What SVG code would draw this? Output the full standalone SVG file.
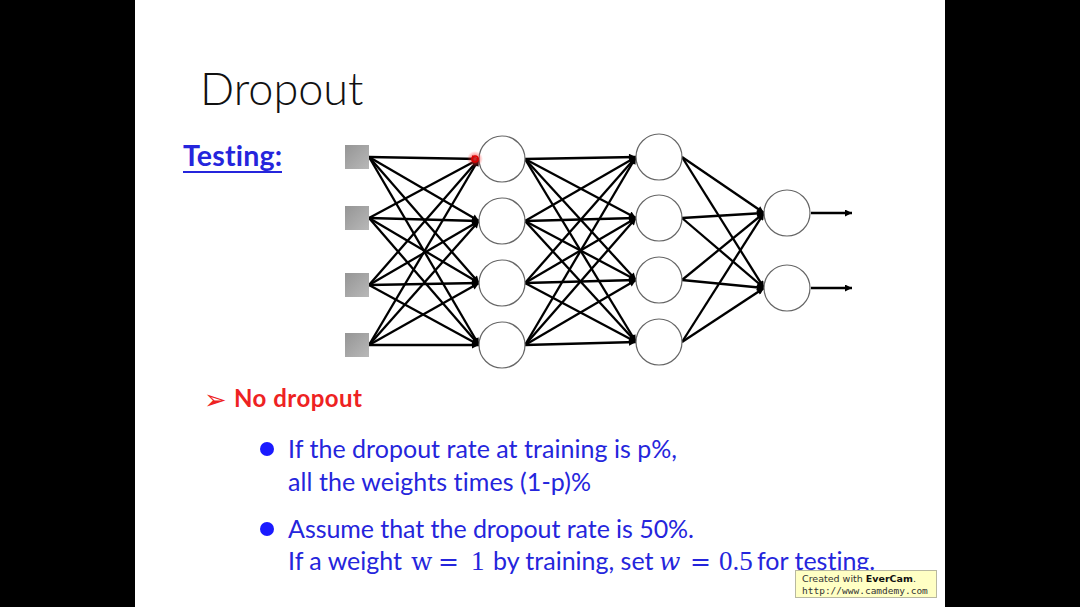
<svg xmlns="http://www.w3.org/2000/svg" width="1080" height="607" viewBox="0 0 1080 607">
<style>
text{font-variant-ligatures:none}
.sq{stroke:none}
.nd{fill:#fff;stroke:#666;stroke-width:1.2}
.cn{stroke:#000;stroke-width:2.3;fill:none;marker-end:url(#ah)}
.blue{fill:#2525dc;font-family:Lato,"Liberation Sans",sans-serif;font-size:25px}
.m{font-family:"DejaVu Serif",serif;font-size:25px}
.d{font-family:"Liberation Serif",serif;font-size:27px}
</style>
<defs>
<linearGradient id="gsq" x1="0" y1="0" x2="1" y2="1">
<stop offset="0" stop-color="#959595"/>
<stop offset="1" stop-color="#b8b8b8"/>
</linearGradient>
<marker id="ah" viewBox="0 0 10 10" refX="10" refY="5" markerWidth="9" markerHeight="7" markerUnits="userSpaceOnUse" orient="auto">
<path d="M0,0 L10,5 L0,10 z" fill="#000"/>
</marker>
<radialGradient id="glow">
<stop offset="0" stop-color="#ff3030" stop-opacity="0.9"/>
<stop offset="1" stop-color="#ff3030" stop-opacity="0"/>
</radialGradient>
</defs>
<rect x="0" y="0" width="1080" height="607" fill="#000"/>
<rect x="135" y="0" width="810" height="607" fill="#fff"/>

<text x="200" y="105" font-family="Lato,'Liberation Sans',sans-serif" font-weight="300" font-size="45" fill="#111">Dropout</text>
<text x="183" y="166" font-family="Lato,'Liberation Sans',sans-serif" font-weight="bold" font-size="28.5" fill="#2525dc" textLength="99" lengthAdjust="spacing">Testing:</text>
<rect x="183" y="171" width="99" height="2" fill="#2525dc"/>

<g id="connectors">
<line class="cn" x1="369" y1="157" x2="479" y2="159"/>
<line class="cn" x1="369" y1="157" x2="479" y2="221"/>
<line class="cn" x1="369" y1="157" x2="479" y2="283"/>
<line class="cn" x1="369" y1="157" x2="479" y2="345"/>
<line class="cn" x1="369" y1="218" x2="479" y2="159"/>
<line class="cn" x1="369" y1="218" x2="479" y2="221"/>
<line class="cn" x1="369" y1="218" x2="479" y2="283"/>
<line class="cn" x1="369" y1="218" x2="479" y2="345"/>
<line class="cn" x1="369" y1="285" x2="479" y2="159"/>
<line class="cn" x1="369" y1="285" x2="479" y2="221"/>
<line class="cn" x1="369" y1="285" x2="479" y2="283"/>
<line class="cn" x1="369" y1="285" x2="479" y2="345"/>
<line class="cn" x1="369" y1="345" x2="479" y2="159"/>
<line class="cn" x1="369" y1="345" x2="479" y2="221"/>
<line class="cn" x1="369" y1="345" x2="479" y2="283"/>
<line class="cn" x1="369" y1="345" x2="479" y2="345"/>

<line class="cn" x1="525" y1="159" x2="636" y2="157"/>
<line class="cn" x1="525" y1="159" x2="636" y2="218"/>
<line class="cn" x1="525" y1="159" x2="636" y2="280"/>
<line class="cn" x1="525" y1="159" x2="636" y2="342"/>
<line class="cn" x1="525" y1="221" x2="636" y2="157"/>
<line class="cn" x1="525" y1="221" x2="636" y2="218"/>
<line class="cn" x1="525" y1="221" x2="636" y2="280"/>
<line class="cn" x1="525" y1="221" x2="636" y2="342"/>
<line class="cn" x1="525" y1="283" x2="636" y2="157"/>
<line class="cn" x1="525" y1="283" x2="636" y2="218"/>
<line class="cn" x1="525" y1="283" x2="636" y2="280"/>
<line class="cn" x1="525" y1="283" x2="636" y2="342"/>
<line class="cn" x1="525" y1="345" x2="636" y2="157"/>
<line class="cn" x1="525" y1="345" x2="636" y2="218"/>
<line class="cn" x1="525" y1="345" x2="636" y2="280"/>
<line class="cn" x1="525" y1="345" x2="636" y2="342"/>

<line class="cn" x1="682" y1="157" x2="764" y2="213"/>
<line class="cn" x1="682" y1="157" x2="764" y2="288"/>
<line class="cn" x1="682" y1="218" x2="764" y2="213"/>
<line class="cn" x1="682" y1="218" x2="764" y2="288"/>
<line class="cn" x1="682" y1="280" x2="764" y2="213"/>
<line class="cn" x1="682" y1="280" x2="764" y2="288"/>
<line class="cn" x1="682" y1="342" x2="764" y2="213"/>
<line class="cn" x1="682" y1="342" x2="764" y2="288"/>

<line class="cn" x1="811" y1="213" x2="852" y2="213"/>
<line class="cn" x1="811" y1="288" x2="852" y2="288"/>
</g>

<g id="in1"><rect class="sq" x="345" y="145" width="24" height="24" fill="url(#gsq)"/></g>
<g id="in2"><rect class="sq" x="345" y="206" width="24" height="24" fill="url(#gsq)"/></g>
<g id="in3"><rect class="sq" x="345" y="273" width="24" height="24" fill="url(#gsq)"/></g>
<g id="in4"><rect class="sq" x="345" y="333" width="24" height="24" fill="url(#gsq)"/></g>

<g id="h1a"><circle class="nd" cx="502" cy="159" r="23"/></g>
<g id="h1b"><circle class="nd" cx="502" cy="221" r="23"/></g>
<g id="h1c"><circle class="nd" cx="502" cy="283" r="23"/></g>
<g id="h1d"><circle class="nd" cx="502" cy="345" r="23"/></g>

<g id="h2a"><circle class="nd" cx="659" cy="157" r="23"/></g>
<g id="h2b"><circle class="nd" cx="659" cy="218" r="23"/></g>
<g id="h2c"><circle class="nd" cx="659" cy="280" r="23"/></g>
<g id="h2d"><circle class="nd" cx="659" cy="342" r="23"/></g>

<g id="o1"><circle class="nd" cx="787" cy="213" r="23"/></g>
<g id="o2"><circle class="nd" cx="787" cy="288" r="23"/></g>

<g id="cursor">
<circle cx="475" cy="159" r="8" fill="url(#glow)"/>
<circle cx="475" cy="159" r="3" fill="none" stroke="#e00000" stroke-width="1.6"/>
</g>

<text x="204" y="409" font-family="'DejaVu Sans',sans-serif" font-size="27" fill="#ee2222">➢</text>
<text x="234" y="407" font-family="Lato,'Liberation Sans',sans-serif" font-weight="bold" font-size="24" fill="#ee2222" textLength="128" lengthAdjust="spacing">No dropout</text>

<circle cx="267" cy="449" r="7" fill="#1a1aff"/>
<text class="blue" x="288" y="458" textLength="389" lengthAdjust="spacing">If the dropout rate at training is p%,</text>
<text class="blue" x="288" y="491" textLength="303" lengthAdjust="spacing">all the weights times (1-p)%</text>

<circle cx="267" cy="529" r="7" fill="#1a1aff"/>
<text class="blue" x="288" y="538" textLength="406" lengthAdjust="spacing">Assume that the dropout rate is 50%.</text>
<text class="blue" y="570"><tspan x="288">If a weight</tspan><tspan class="m" x="411">w</tspan><tspan class="m" x="438">=</tspan><tspan class="d" x="471">1</tspan><tspan x="493">by training, set</tspan><tspan class="m" x="659" font-style="italic">w</tspan><tspan class="m" x="690">=</tspan><tspan class="d" x="719">0.5</tspan><tspan x="757">for testing.</tspan></text>

<g id="watermark">
<rect x="795.5" y="570.5" width="141" height="27" fill="#ffffc4" stroke="#b8b8a0" stroke-width="1"/>
<text x="802" y="582" font-family="'DejaVu Sans',sans-serif" font-size="9.5" fill="#333">Created with <tspan font-weight="bold" fill="#111">EverCam</tspan>.</text>
<text x="802" y="594" font-family="'DejaVu Sans Mono',monospace" font-size="9.5" fill="#333">http://www.camdemy.com</text>
</g>
</svg>
